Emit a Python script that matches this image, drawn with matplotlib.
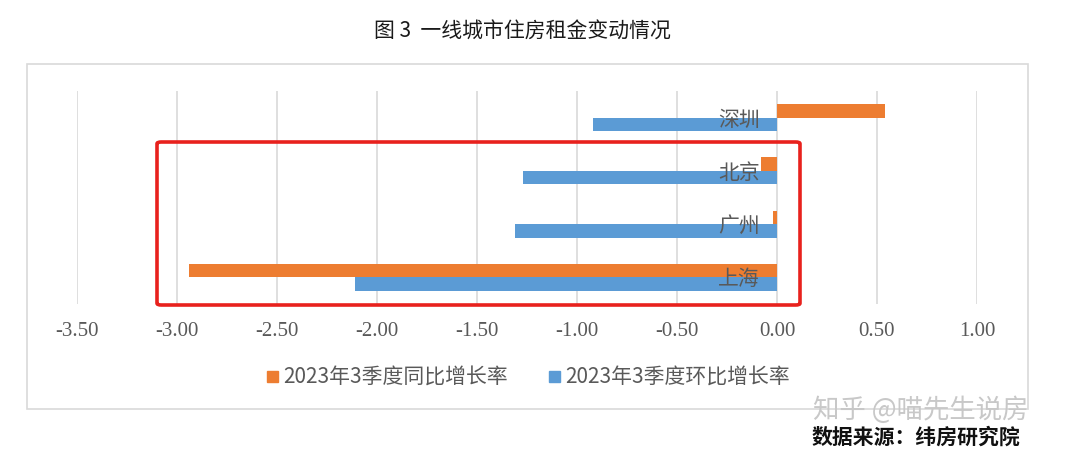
import matplotlib.pyplot as plt
from matplotlib.patches import FancyBboxPatch, Rectangle
import numpy as np

plt.rcParams['font.family'] = ['Noto Sans CJK SC', 'DejaVu Sans']

cities = ["深圳", "北京", "广州", "上海"]
yoy = [0.54, -0.08, -0.02, -2.94]     # 2023年3季度同比增长率
qoq = [-0.92, -1.27, -1.31, -2.11]    # 2023年3季度环比增长率
xticks = [-3.5, -3.0, -2.5, -2.0, -1.5, -1.0, -0.5, 0.0, 0.5, 1.0]
series_names = ["2023年3季度同比增长率", "2023年3季度环比增长率"]

ORANGE = "#ED7D31"
BLUE = "#5B9BD5"
GRID = "#D9D9D9"
TXT = "#595959"

fig = plt.figure(figsize=(10.8, 4.6), dpi=100)
W, H = 1080, 460

# outer chart frame
fig.patches.append(Rectangle((27 / W, 1 - 410 / H), (1028 - 27) / W, (410 - 65) / H,
                             transform=fig.transFigure, fill=False,
                             edgecolor=GRID, linewidth=1.2))

ax = fig.add_axes([77 / W, 1 - 305 / H, 900 / W, (305 - 92) / H])
y = np.arange(len(cities))
h = 0.255
ax.barh(y - h / 2, yoy, height=h, color=ORANGE, zorder=3)
ax.barh(y + h / 2, qoq, height=h, color=BLUE, zorder=3)
ax.set_ylim(len(cities) - 0.5, -0.5)
ax.set_xlim(-3.5, 1.0)
ax.set_xticks(xticks)
ax.set_xticklabels([f"{v:.2f}" for v in xticks], family="Liberation Serif",
                   fontsize=15, color=TXT)
ax.tick_params(axis="x", length=0, pad=12)
ax.set_yticks([])
for v in xticks:
    ax.axvline(v, color=GRID, linewidth=1.2, zorder=1)
for s in ax.spines.values():
    s.set_visible(False)

for i, c in enumerate(cities):
    ax.text(-0.085, i + 0.02, c, ha="right", va="center", fontsize=15,
            color=TXT, zorder=4)

# legend
for x0, col, name in [(267, ORANGE, series_names[0]), (549, BLUE, series_names[1])]:
    fig.patches.append(Rectangle((x0 / W, 1 - 383 / H), 11 / W, 11 / H,
                                 transform=fig.transFigure, color=col))
    fig.text((x0 + 16) / W, 1 - 377 / H, name, ha="left", va="center",
             fontsize=15, color=TXT)

fig.text(522 / W, 1 - 32 / H, "图 3  一线城市住房租金变动情况", ha="center",
         va="center", fontsize=15, color="#1a1a1a")

# red highlight box
fig.patches.append(FancyBboxPatch((157 / W, 1 - 306 / H), (800 - 157) / W, (306 - 143) / H,
                                  boxstyle="round,pad=0,rounding_size=0.004",
                                  transform=fig.transFigure, fill=False,
                                  edgecolor="#E8211D", linewidth=2.6))

fig.text(921 / W, 1 - 410 / H, "知乎 @喵先生说房", ha="center", va="center",
         fontsize=19, color="#C8C8C8")
fig.text(916 / W, 1 - 437 / H, "数据来源：纬房研究院", ha="center", va="center",
         fontsize=15, fontweight="bold", color="#111111")

fig.savefig("out.png", dpi=100, facecolor="white")
